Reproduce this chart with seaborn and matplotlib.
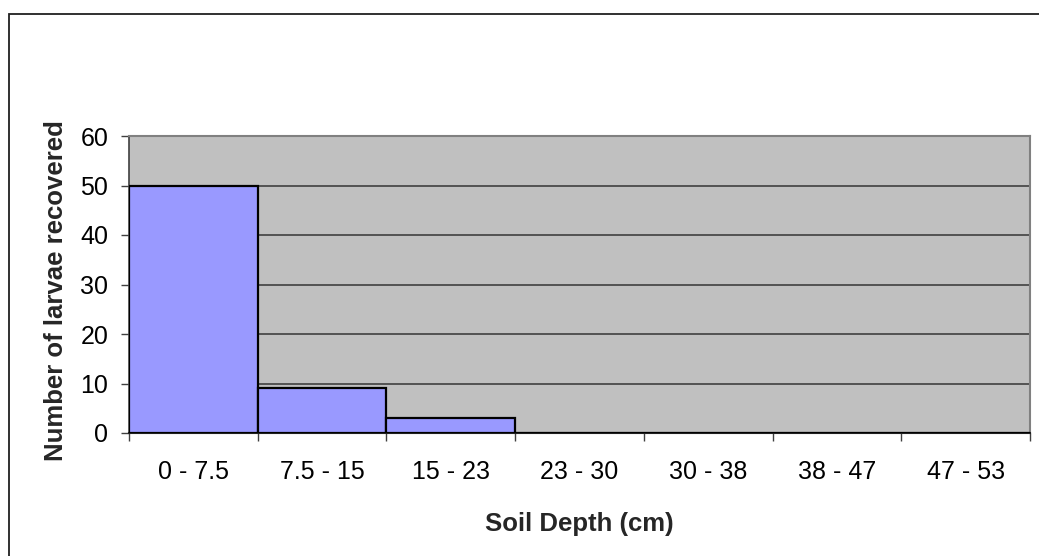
import matplotlib
matplotlib.use("Agg")
import matplotlib.pyplot as plt
from matplotlib.patches import Rectangle
import seaborn as sns
import numpy as np

# Larvae counts per soil depth layer
depth_bins = ["0 - 7.5", "7.5 - 15", "15 - 23", "23 - 30", "30 - 38", "38 - 47", "47 - 53"]
larvae_counts = [50, 9, 3, 0, 0, 0, 0]
y_ticks = [0, 10, 20, 30, 40, 50, 60]

sns.set_theme(style="white")
plt.rcParams["font.family"] = ["Liberation Sans", "DejaVu Sans"]

W, H = 1039, 556
fig = plt.figure(figsize=(W / 100, H / 100), dpi=100)
fig.patch.set_facecolor("white")

left, right, top, bottom = 129, 1030, 136, 433
ax = fig.add_axes([left / W, 1 - bottom / H, (right - left) / W, (bottom - top) / H])
ax.set_facecolor("#C0C0C0")

sns.barplot(x=depth_bins, y=larvae_counts, ax=ax, width=1.0, color="#9999FF",
            saturation=1, edgecolor="black", linewidth=1.6, zorder=3)

n = len(depth_bins)
ax.set_xlim(-0.5, n - 0.5)
ax.set_ylim(y_ticks[0], y_ticks[-1])
ax.set_yticks(y_ticks)
ax.set_yticklabels([str(v) for v in y_ticks])

# Category boundaries carry the tick marks; labels sit at category centres
ax.set_xticks(np.arange(n + 1) - 0.5)
ax.set_xticklabels([""] * (n + 1))
ax.set_xticks(np.arange(n), minor=True)
ax.set_xticklabels(depth_bins, minor=True)
ax.tick_params(axis="x", which="major", direction="out", length=6, width=1.0,
               color="#404040", bottom=True)
ax.tick_params(axis="x", which="minor", length=0, pad=19.5, labelsize=18, labelcolor="black")
ax.tick_params(axis="y", direction="out", length=6, width=1.0, color="#404040",
               left=True, pad=9, labelsize=18, labelcolor="black")

ax.yaxis.grid(True, color="#404040", linewidth=1.2)
ax.xaxis.grid(False)
ax.set_axisbelow(True)

for side in ["top", "right"]:
    ax.spines[side].set_color("#808080")
    ax.spines[side].set_linewidth(1.5)
ax.spines["left"].set_color("#404040")
ax.spines["left"].set_linewidth(1.2)
ax.spines["bottom"].set_color("#202020")
ax.spines["bottom"].set_linewidth(1.5)

ax.set_xlabel("Soil Depth (cm)", fontsize=18.5, fontweight="bold", labelpad=20)
ax.set_ylabel("Number of larvae recovered", fontsize=18.5, fontweight="bold", labelpad=9)
ax.yaxis.label.set_y(0.478)

# Chart frame
fig.patches.append(Rectangle((8.5 / W, -0.5), 2.0, 1.5 - 14 / H, transform=fig.transFigure,
                             fill=False, edgecolor="#202020", linewidth=1.3, zorder=0))

fig.savefig("out.png", dpi=100, facecolor="white")
